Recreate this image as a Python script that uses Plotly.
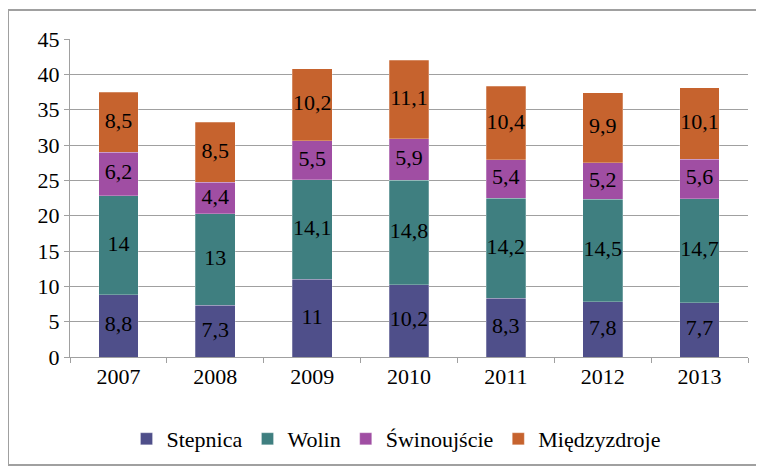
import plotly.graph_objects as go

years = ["2007", "2008", "2009", "2010", "2011", "2012", "2013"]
stepnica = [8.8, 7.3, 11, 10.2, 8.3, 7.8, 7.7]
wolin = [14, 13, 14.1, 14.8, 14.2, 14.5, 14.7]
swinoujscie = [6.2, 4.4, 5.5, 5.9, 5.4, 5.2, 5.6]
miedzyzdroje = [8.5, 8.5, 10.2, 11.1, 10.4, 9.9, 10.1]

series = [
    ("Stepnica", stepnica, "#4F4F8A"),
    ("Wolin", wolin, "#3F7F80"),
    ("Świnoujście", swinoujscie, "#A04EA3"),
    ("Międzyzdroje", miedzyzdroje, "#C6632E"),
]

FONT = "Liberation Serif, Times New Roman, serif"
FS = 22

def fmt(v):
    return ("%g" % v).replace(".", ",")

fig = go.Figure()
base = [0.0] * len(years)
for name, vals, col in series:
    fig.add_trace(go.Bar(
        x=years, y=vals, name=name,
        marker=dict(color=col, line=dict(color="rgba(255,255,255,0.5)", width=0.5)),
        width=0.41,
    ))
    mids = [b0 + v / 2 for b0, v in zip(base, vals)]
    fig.add_trace(go.Scatter(
        x=years, y=mids, mode="text", text=[fmt(v) for v in vals],
        textfont=dict(family=FONT, size=FS, color="black"),
        showlegend=False, hoverinfo="skip",
    ))
    base = [b0 + v for b0, v in zip(base, vals)]

# page has an 8px body margin; compensate
OFF = 8
W, H = 764, 468
l, r, t, b = 70 - OFF, 16 + OFF, 39 - OFF, 111 + OFF
pw, ph = W - l - r, H - t - b

fig.update_layout(
    width=W, height=H, barmode="stack",
    margin=dict(l=l, r=r, t=t, b=b, autoexpand=False),
    paper_bgcolor="white", plot_bgcolor="white",
    font=dict(family=FONT, size=FS, color="black"),
    showlegend=True,
    legend=dict(orientation="h", x=(396 - OFF - l) / pw, xanchor="center",
                y=1 - (418 - OFF - t) / ph, yanchor="top",
                font=dict(family=FONT, size=FS), itemwidth=30, traceorder="normal"),
    xaxis=dict(type="category", showline=True, linecolor="#A0A0A0", linewidth=1,
               ticks="outside", tickson="boundaries", ticklen=5, tickcolor="#A0A0A0",
               tickfont=dict(family=FONT, size=FS)),
    yaxis=dict(range=[0, 45], dtick=5, showgrid=True, gridcolor="#A0A0A0", gridwidth=1,
               showline=True, linecolor="#A0A0A0", ticks="outside", ticklen=5,
               tickcolor="#A0A0A0", tickfont=dict(family=FONT, size=FS), zeroline=False),
    shapes=[dict(type="rect", xref="paper", yref="paper",
                 x0=(8 - OFF - l) / pw, x1=(760 - OFF - l) / pw,
                 y0=1 - (465 - OFF - t) / ph, y1=1 - (10 - OFF - t) / ph,
                 line=dict(color="#A0A0A0", width=2), fillcolor="rgba(0,0,0,0)", layer="below")],
)

fig.write_html("out.html")
